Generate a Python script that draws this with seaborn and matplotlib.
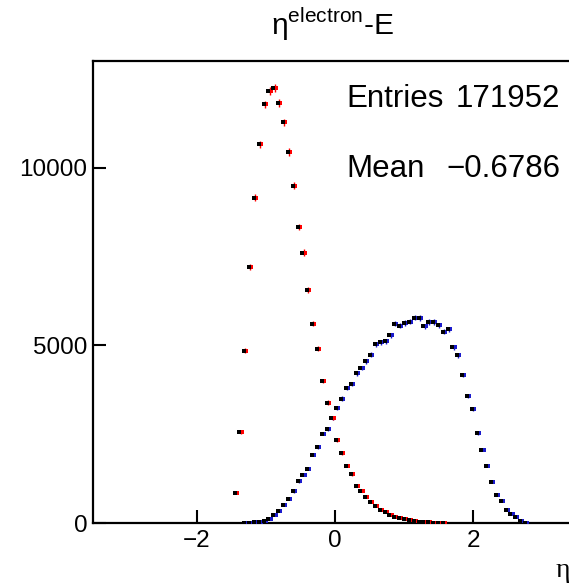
import numpy as np
import pandas as pd
import matplotlib
matplotlib.use("Agg")
import matplotlib.pyplot as plt
import matplotlib.transforms as mtransforms
import seaborn as sns

# Histogram binning: 100 bins on [-3.5, 3.5]
x_min, x_max, n_bins = -3.5, 3.5, 100

# Red histogram (bins 29..72)
red_first_bin = 29
red_counts = [832, 2560, 4846, 7190, 9151, 10655, 11776, 12148, 12241, 11812,
              11272, 10440, 9487, 8331, 7611, 6566, 5613, 4902, 3989, 3389,
              2952, 2325, 1961, 1616, 1373, 1036, 908, 728, 588, 476,
              375, 308, 224, 179, 140, 104, 76, 50, 35, 25,
              18, 12, 8, 5]

# Blue histogram (bins 31..89)
blue_first_bin = 31
blue_counts = [5, 10, 20, 30, 48, 123, 224, 347, 515, 664,
               888, 1168, 1356, 1524, 1924, 2140, 2513, 2653, 2952, 3249,
               3501, 3793, 3905, 4213, 4361, 4549, 4734, 5025, 5090, 5109,
               5277, 5613, 5557, 5630, 5669, 5782, 5770, 5538, 5658, 5658,
               5566, 5378, 5445, 4950, 4717, 4165, 3577, 3213, 2532, 2064,
               1608, 1148, 795, 608, 375, 252, 168, 67, 10]

title_base = "η"
title_sup = "electron"
title_tail = "-E"
stats_labels = ["Entries", "Mean"]
stats_values = ["171952", "\u22120.6786"]
x_ticks = [-2, 0, 2]
x_tick_labels = ["\u22122", "0", "2"]
y_ticks = [0, 5000, 10000]
y_tick_labels = ["0", "5000", "10000"]
x_label = "η"

sns.set_style("white")
plt.rcParams["font.family"] = ["Liberation Sans", "DejaVu Sans"]
plt.rcParams["text.color"] = "black"
plt.rcParams["mathtext.fontset"] = "custom"
plt.rcParams["mathtext.rm"] = "Liberation Sans"

edges = np.linspace(x_min, x_max, n_bins + 1)
centers = 0.5 * (edges[:-1] + edges[1:])


def hist_frame(first_bin, counts, name):
    idx = np.arange(first_bin, first_bin + len(counts))
    return pd.DataFrame({"x": centers[idx], "y": np.asarray(counts, float), "h": name})


red = hist_frame(red_first_bin, red_counts, "red")
blue = hist_frame(blue_first_bin, blue_counts, "blue")

W, H = 569, 586
fig = plt.figure(figsize=(W / 100, H / 100), dpi=100)
ax = fig.add_axes([93 / W, 1 - 523 / H, (577 - 93) / W, (523 - 61) / H])

red_c = "#ff0000"
blue_c = "#1a1acc"

for df, col in [(blue, blue_c), (red, red_c)]:
    ax.errorbar(df["x"], df["y"], yerr=np.sqrt(df["y"]), fmt="none",
                ecolor=col, elinewidth=1.0, capsize=0, zorder=3)
    right = mtransforms.offset_copy(ax.transData, fig=fig, x=1.0, y=0, units="dots")
    left = mtransforms.offset_copy(ax.transData, fig=fig, x=-1.2, y=0, units="dots")
    sns.scatterplot(data=df, x="x", y="y", ax=ax, color=col, marker="s", s=7,
                    linewidth=0, transform=right, zorder=4, legend=False)
    sns.scatterplot(data=df, x="x", y="y", ax=ax, color="black", marker="s", s=5,
                    linewidth=0, transform=left, zorder=5, legend=False)

ax.set_xlim(x_min, x_max)
ax.set_ylim(0, 13000)
ax.set_xlabel("")
ax.set_ylabel("")

ax.set_xticks(x_ticks)
ax.set_xticklabels(x_tick_labels)
ax.set_yticks(y_ticks)
ax.set_yticklabels(y_tick_labels)
ax.tick_params(axis="both", which="major", direction="in", length=9.5, width=1.5,
               color="black", labelcolor="black", labelsize=17.5,
               bottom=True, left=True, top=False, right=False)
ax.tick_params(axis="x", pad=5)
ax.tick_params(axis="y", pad=4)
ax.minorticks_off()
for side in ["left", "bottom", "top", "right"]:
    ax.spines[side].set_visible(True)
    ax.spines[side].set_color("black")
    ax.spines[side].set_linewidth(1.6)
ax.grid(False)

# Title with superscript
fig.text(332 / W, 1 - 35 / H, title_base + r"$^{\mathrm{" + title_sup + "}}$" + title_tail,
         ha="center", va="baseline", fontsize=21.5, color="black")

# Stats box contents
for row, (lab, val) in enumerate(zip(stats_labels, stats_values)):
    yb = 1 - (107 + 70 * row) / H
    fig.text(346 / W, yb, lab, ha="left", va="baseline", fontsize=22.5, color="black")
    fig.text(560 / W, yb, val, ha="right", va="baseline", fontsize=22.5, color="black")

# Axis title at the right end of the x axis
fig.text(556 / W, 1 - 577 / H, x_label, ha="left", va="baseline", fontsize=20,
         color="black", family=["Liberation Serif", "DejaVu Serif"])

fig.savefig("out.png", dpi=100)
